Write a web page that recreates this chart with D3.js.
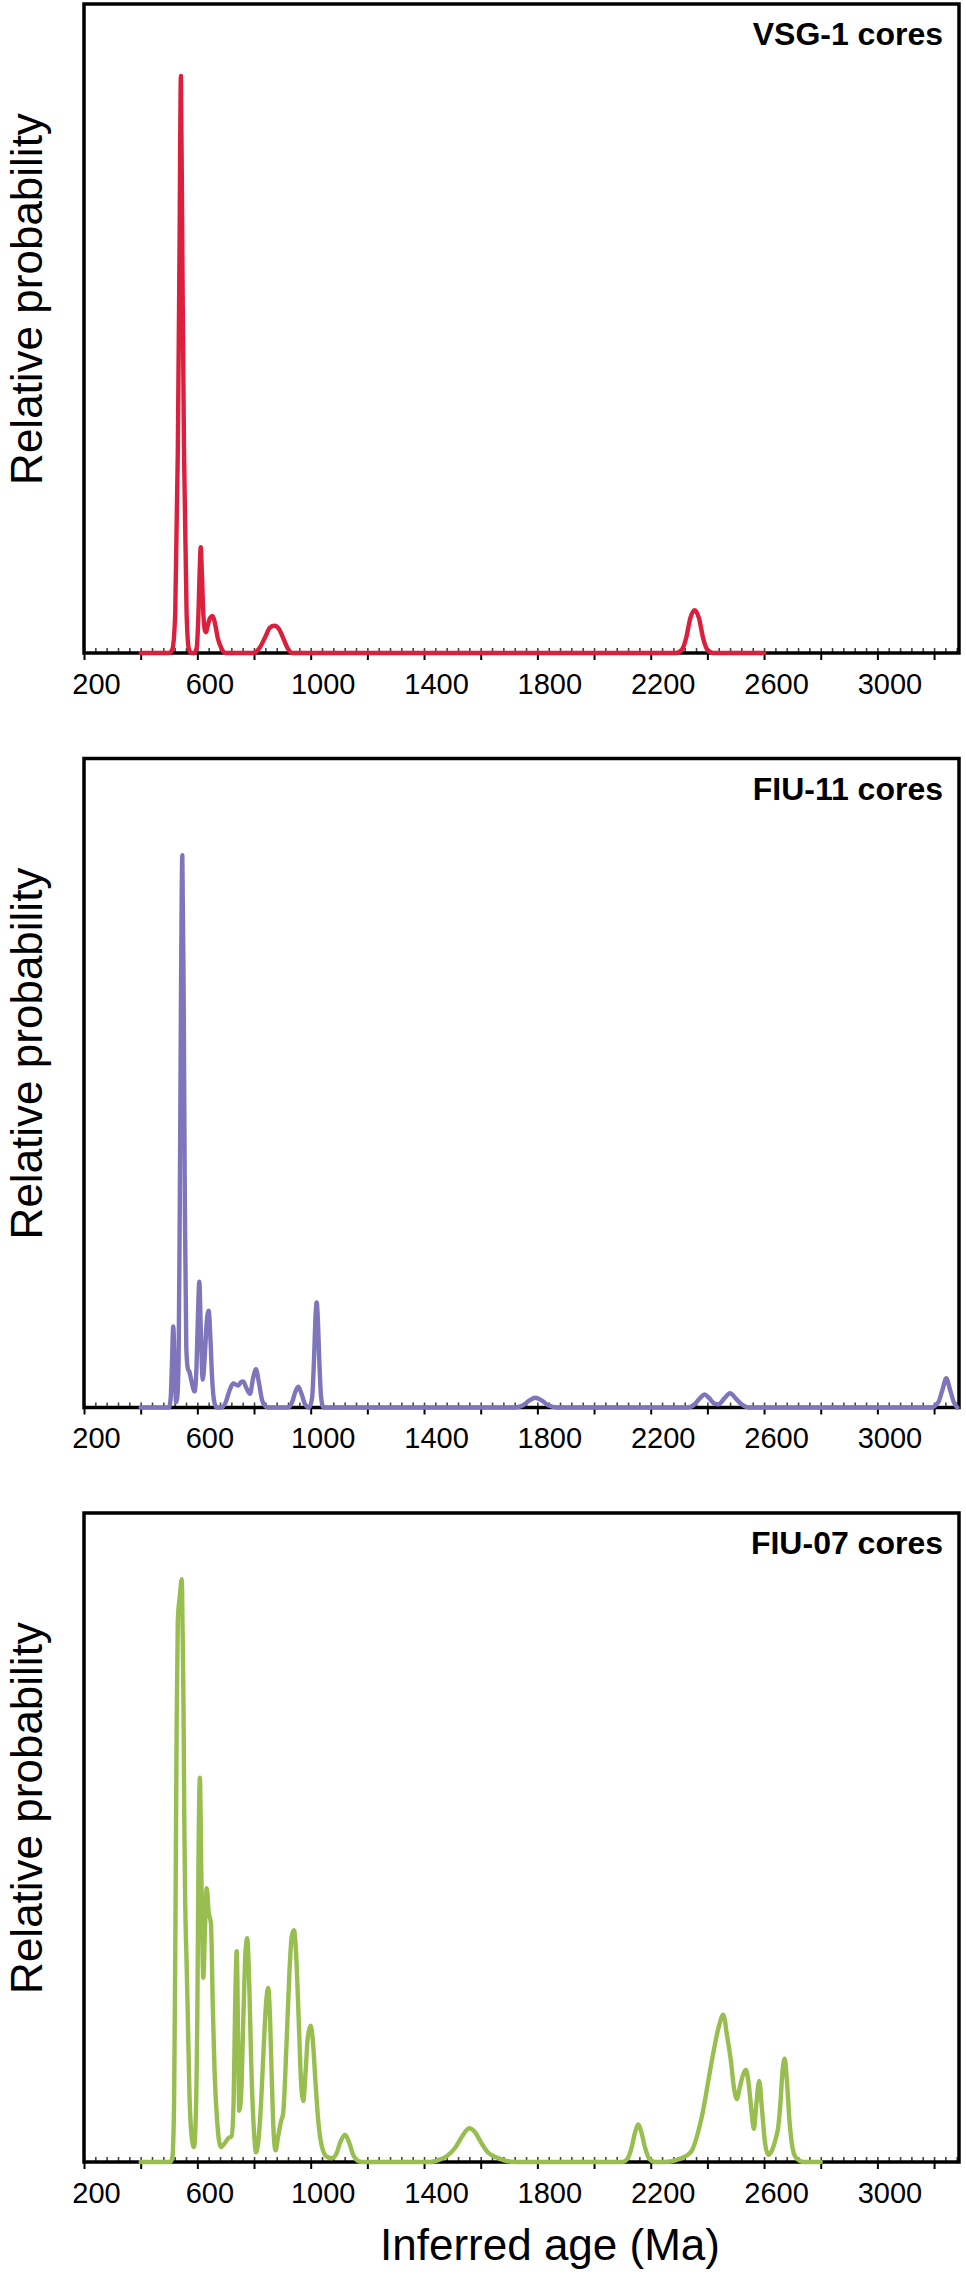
<!DOCTYPE html>
<meta charset="utf-8">
<style>
    body { margin: 0; background: #fff; }
    text { font-family: "Liberation Sans", Arial, Helvetica, sans-serif; fill: #000; }
    .tick-label { font-size: 29px; }
    .panel-title { font-size: 32px; font-weight: bold; }
    .axis-title { font-size: 44px; }
    .frame { fill: none; stroke: #000; stroke-width: 3.5; }
    .curve { fill: none; stroke-width: 4.4; stroke-linejoin: round; stroke-linecap: round; }
</style>
<body>
<script src="https://cdn.jsdelivr.net/npm/d3@7"></script>
<script>
    // ---- data (ages in Ma, relative probability in arbitrary units) ----
    var titles = ["VSG-1 cores", "FIU-11 cores", "FIU-07 cores"];
    var colors = ["#db1f3d", "#7d76bb", "#98be50"];

    var vsg1 = [
        [400,0],[500,0],[512,0.6],[522,6.2],[531,30.8],[537,61.6],[542,88.9],[547,61.6],[553,30.8],
        [562,6.2],[570,0.6],[578,0],[590,0],[598,0.9],[604,6.2],[608,12.3],[612,16.3],[616,12.3],
        [621,6.2],[627,3.4],[631,3.2],[637,4.3],[645,5.4],[654,5.7],[662,4.6],[672,2.3],[684,0.8],
        [700,0],[800,0],[820,0.8],[840,2.5],[856,3.9],[872,4.2],[888,3.7],[903,2.3],[918,0.8],
        [935,0],[2290,0],[2310,0.5],[2325,2.3],[2340,5.4],[2355,6.6],[2370,5.4],[2385,2.3],
        [2400,0.5],[2420,0],[2600,0]
    ];

    var fiu11 = [
        [400,0],[500,0],[506,1.5],[510,6.2],[515,12.5],[520,6.2],[525,0.8],[529,1.5],[534,7.7],
        [538,30.8],[542,61.6],[547,85.1],[552,61.6],[556,30.8],[561,9.2],[567,5.9],[572,5.5],
        [580,3.9],[590,2.5],[597,6.2],[602,13.9],[607,19.4],[612,12.3],[619,4.3],[626,7.7],
        [633,13.1],[640,14.9],[646,10.8],[652,4.6],[660,0.8],[668,0],[685,0],[700,0.8],[715,2.8],
        [727,3.7],[737,3.5],[745,3.4],[754,3.9],[762,4.0],[772,3.1],[786,2.1],[797,4.6],[807,5.9],
        [817,3.9],[828,1.2],[840,0.2],[850,0],[920,0],[935,0.9],[945,2.3],[956,3.2],[967,2.2],
        [980,0.5],[995,0],[1005,1.5],[1012,7.7],[1017,13.9],[1021,16.2],[1025,13.9],[1030,7.7],
        [1037,1.5],[1045,0],[1720,0],[1748,0.3],[1772,1.1],[1793,1.5],[1815,1.1],[1840,0.3],
        [1870,0],[2330,0],[2355,0.5],[2375,1.5],[2390,2.0],[2405,1.5],[2425,0.6],[2440,0.5],
        [2460,1.4],[2480,2.2],[2500,1.4],[2520,0.5],[2550,0],[3190,0],[3215,0.8],[3230,2.8],
        [3243,4.5],[3256,2.8],[3270,0.8],[3282,0]
    ];

    var fiu07 = [
        [400,0],[505,0],[512,0.8],[518,9.2],[523,38.5],[527,67.8],[531,83.4],[538,87.1],[545,89.8],
        [548,81.7],[551,71.2],[554,52.4],[557,40.4],[562,30.8],[566,23.1],[572,10.8],[580,3.9],
        [588,2.3],[594,6.2],[600,23.1],[604,46.2],[609,59.2],[614,44.7],[621,28.4],[627,36.0],
        [633,42.2],[640,38.5],[648,36.8],[655,23.1],[661,13.7],[670,6.2],[683,2.3],[695,2.8],
        [710,3.7],[721,4.0],[728,9.2],[733,23.1],[739,32.5],[744,18.5],[748,7.9],[755,10.8],
        [762,21.6],[770,32.4],[776,34.5],[783,27.7],[790,15.4],[800,4.6],[807,1.5],[815,3.1],
        [825,9.2],[835,18.5],[843,24.7],[850,26.8],[857,21.6],[863,12.3],[870,3.9],[876,1.8],
        [885,3.9],[895,6.2],[903,7.6],[915,18.5],[925,29.3],[933,34.7],[941,35.7],[950,30.8],
        [958,21.6],[966,12.3],[974,9.4],[982,13.9],[990,19.3],[1000,21.0],[1008,18.5],[1017,12.3],
        [1027,6.2],[1040,2.3],[1057,0.8],[1075,0.6],[1090,1.2],[1105,3.1],[1121,4.2],[1135,3.1],
        [1150,1.1],[1165,0.2],[1180,0],[1420,0],[1450,0.3],[1480,0.9],[1510,2.2],[1535,4.0],
        [1560,5.2],[1580,4.6],[1600,3.1],[1625,1.5],[1650,0.8],[1680,0.3],[1720,0],[2100,0],
        [2118,0.5],[2133,2.3],[2145,4.6],[2156,5.8],[2167,4.6],[2180,2.2],[2195,0.5],[2215,0],
        [2250,0],[2290,0.3],[2341,1.5],[2380,6.9],[2417,15.9],[2440,20.8],[2456,22.7],[2470,19.3],
        [2482,15.9],[2495,11.1],[2504,9.7],[2515,11.6],[2527,13.6],[2536,14.2],[2545,12.3],
        [2556,7.7],[2564,5.1],[2572,8.5],[2583,12.5],[2592,8.5],[2603,3.1],[2615,1.1],[2628,1.8],
        [2640,3.4],[2650,5.4],[2658,9.2],[2665,13.9],[2673,15.9],[2681,12.3],[2690,6.2],
        [2700,2.3],[2710,0.8],[2725,0.2],[2740,0],[2800,0]
    ];

    var series = [vsg1, fiu11, fiu07];

    var ageDomain = [200, 3288];
    var majorTicks = d3.range(200, 3201, 200);
    var labelTicks = d3.range(200, 3001, 400);
    var minorTicks = d3.range(200, 3281, 40);

    // ---- layout ----
    var width = 966, height = 2275;
    var left = 84, plotW = 875, plotH = 649;
    var panelTops = [4, 758.5, 1513];

    var svg = d3.select("body").append("svg")
        .attr("width", width)
        .attr("height", height);

    svg.append("rect").attr("width", width).attr("height", height).attr("fill", "#fff");

    var x = d3.scaleLinear().domain(ageDomain).range([left, left + plotW]);

    series.forEach(function(data, i) {
        var top = panelTops[i];
        var y = d3.scaleLinear().domain([0, 100]).range([top + plotH, top]);
        var g = svg.append("g").attr("class", "panel");

        // minor ticks, pointing up into the plot
        g.append("g")
            .attr("transform", "translate(0," + (top + plotH) + ")")
            .call(d3.axisBottom(x).tickValues(minorTicks).tickSizeInner(-5).tickSizeOuter(0).tickFormat(""))
            .call(function(a) {
                a.select(".domain").remove();
                a.selectAll("line").attr("stroke", "#444").attr("stroke-width", 1.6);
            });

        // major ticks + labels
        g.append("g")
            .attr("transform", "translate(0," + (top + plotH) + ")")
            .call(d3.axisBottom(x).tickValues(majorTicks).tickSizeInner(7).tickSizeOuter(0).tickPadding(13)
                .tickFormat(function(d) { return labelTicks.indexOf(d) >= 0 ? d : ""; }))
            .call(function(a) {
                a.select(".domain").remove();
                a.selectAll("line").attr("stroke", "#000").attr("stroke-width", 2);
                a.selectAll("text").attr("class", "tick-label").attr("dx", 12)
                    .attr("font-size", null).attr("font-family", null).attr("fill", "#000");
            });

        // frame (its bottom edge is the baseline)
        g.append("rect")
            .attr("class", "frame")
            .attr("x", left).attr("y", top)
            .attr("width", plotW).attr("height", plotH);

        // probability curve
        var line = d3.line()
            .x(function(d) { return x(d[0]); })
            .y(function(d) { return y(d[1]); })
            .curve(d3.curveMonotoneX);

        g.append("path")
            .datum(data)
            .attr("class", "curve")
            .attr("stroke", colors[i])
            .attr("d", line);

        g.append("text")
            .attr("class", "panel-title")
            .attr("x", 943).attr("y", top + 41)
            .attr("text-anchor", "end")
            .text(titles[i]);

        g.append("text")
            .attr("class", "axis-title")
            .attr("transform", "translate(42," + (top + 295) + ") rotate(-90)")
            .attr("text-anchor", "middle")
            .text("Relative probability");
    });

    svg.append("text")
        .attr("class", "axis-title")
        .attr("x", 550).attr("y", 2260)
        .attr("text-anchor", "middle")
        .text("Inferred age (Ma)");
</script>
</body>
